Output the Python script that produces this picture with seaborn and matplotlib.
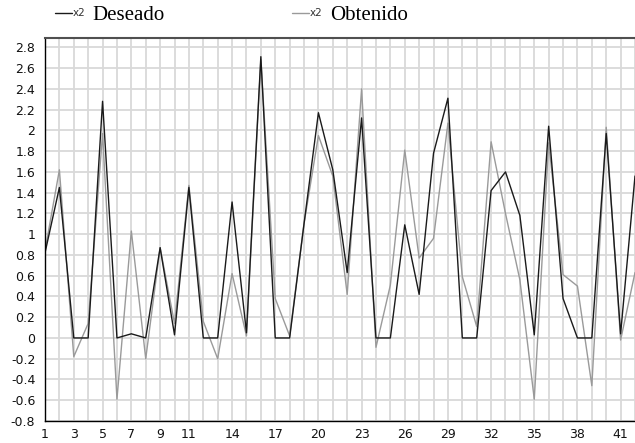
import matplotlib
matplotlib.use("Agg")
import matplotlib.pyplot as plt
from matplotlib.lines import Line2D
import seaborn as sns
import pandas as pd
import numpy as np

# ---- data ----
indices = list(range(1, 43))
deseado = [0.82, 1.45, 0.0, 0.0, 2.28, 0.0, 0.04, 0.0, 0.87, 0.03,
           1.45, 0.0, 0.0, 1.31, 0.05, 2.71, 0.0, 0.0, 1.1, 2.17,
           1.62, 0.63, 2.12, 0.0, 0.0, 1.09, 0.42, 1.78, 2.31, 0.0,
           0.0, 1.42, 1.6, 1.18, 0.03, 2.04, 0.38, 0.0, 0.0, 1.97,
           0.04, 1.56]
obtenido = [0.84, 1.62, -0.18, 0.14, 1.97, -0.59, 1.03, -0.2, 0.87, 0.14,
            1.47, 0.16, -0.2, 0.62, 0.02, 2.68, 0.38, 0.02, 1.1, 1.95,
            1.56, 0.42, 2.4, -0.09, 0.51, 1.81, 0.77, 0.96, 2.07, 0.59,
            0.11, 1.89, 1.2, 0.56, -0.59, 1.88, 0.61, 0.5, -0.46, 2.03,
            -0.02, 0.63]
series_names = ["Deseado", "Obtenido"]
x_label_values = [1, 3, 5, 7, 9, 11, 14, 17, 20, 23, 26, 29, 32, 35, 38, 41]
y_ticks = [round(-0.8 + 0.2 * i, 1) for i in range(19)]

df = pd.DataFrame({
    "idx": indices * 2,
    "valor": deseado + obtenido,
    "serie": [series_names[0]] * len(indices) + [series_names[1]] * len(indices),
})

sns.set_style("white")
plt.rcParams["font.family"] = ["DejaVu Sans"]

W, H = 635, 443
fig = plt.figure(figsize=(W / 100, H / 100), dpi=100)
left, right, top, bottom = 45, 635, 38, 421
ax = fig.add_axes([left / W, 1 - bottom / H, (right - left) / W, (bottom - top) / H])

colors = {"Deseado": "#1a1a1a", "Obtenido": "#9a9a9a"}
sns.lineplot(data=df, x="idx", y="valor", hue="serie", palette=colors,
             hue_order=["Obtenido", "Deseado"], linewidth=1.0, legend=False, ax=ax,
             estimator=None, sort=False)

ax.set_xlim(1, 1 + (right - left) / 14.5)
ax.set_ylim(-0.8, 2.89)
ax.set_xticks(indices)
ax.set_xticklabels([str(i) if i in x_label_values else "" for i in indices])
ax.set_yticks(y_ticks)
ax.set_yticklabels([f"{v:g}" for v in y_ticks])
ax.grid(True, color="#d9d9d9", linewidth=1.3)
ax.set_axisbelow(True)
ax.set_xlabel("")
ax.set_ylabel("")
ax.tick_params(axis="both", direction="out", length=4, width=1, color="black",
               labelsize=9, labelcolor="#111111")
ax.tick_params(axis="x", pad=1)
ax.tick_params(axis="y", pad=3)
for s in ["left", "bottom"]:
    ax.spines[s].set_color("black")
    ax.spines[s].set_linewidth(1.0)
ax.spines["top"].set_color("#505050")
ax.spines["top"].set_linewidth(1.5)
ax.spines["right"].set_visible(False)

# ---- legend at the top ----
def px(x, y):
    return x / W, 1 - y / H

for (x0, x1, xt, xn), name in zip([(55, 72, 73, 92), (292, 309, 310, 330)], series_names):
    fig.add_artist(Line2D([x0 / W, x1 / W], [1 - 13 / H, 1 - 13 / H],
                          color=colors[name], linewidth=1.0, transform=fig.transFigure))
    fig.text(*px(xt, 12.5), "x2", fontsize=7.5, color="#333333", va="center", ha="left")
    fig.text(*px(xn, 15), name, fontsize=15, family=["Liberation Serif"],
             va="center", ha="left", color="black")

fig.savefig("out.png", dpi=100)
